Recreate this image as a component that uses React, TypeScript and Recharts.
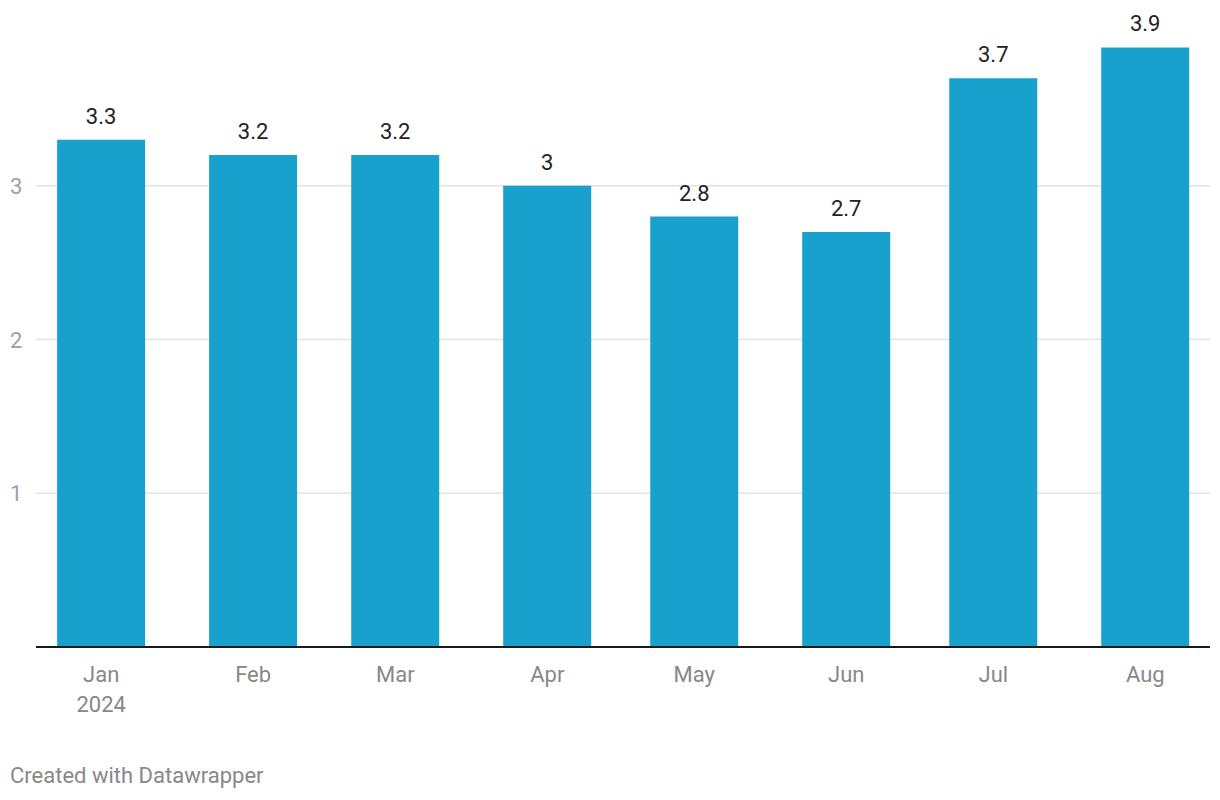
import { BarChart, Bar, XAxis, YAxis, CartesianGrid, LabelList } from "recharts";

// monthly values, 2024
const months = ["Jan", "Feb", "Mar", "Apr", "May", "Jun", "Jul", "Aug"];
const values = [3.3, 3.2, 3.2, 3, 2.8, 2.7, 3.7, 3.9];
// day of year for the first of each month (2024 is a leap year)
const dayOfYear = [0, 31, 60, 91, 121, 152, 182, 213];
const yTicks = [1, 2, 3];

const data = months.map((m, i) => ({ month: m, day: dayOfYear[i], value: values[i] }));

const FONT = "Roboto, 'Noto Sans', sans-serif";

const MonthTick = (props: any) => {
  const { x, y, payload } = props;
  const idx = dayOfYear.indexOf(payload.value);
  return (
    <g>
      <text x={x} y={y + 27} textAnchor="middle" fill="#888" fontSize={22} fontFamily={FONT}>
        {months[idx]}
      </text>
      {idx === 0 && (
        <text x={x} y={y + 57} textAnchor="middle" fill="#888" fontSize={22} fontFamily={FONT}>
          2024
        </text>
      )}
    </g>
  );
};

const ValueTick = (props: any) => {
  const { y, payload } = props;
  return (
    <text x={10} y={y + 8} textAnchor="start" fill="#a0a0a0" fontSize={22} fontFamily={FONT}>
      {payload.value}
    </text>
  );
};

export default function App() {
  return (
    <div style={{ position: "absolute", left: 0, top: 0, width: 1220, height: 800, background: "#fff" }}>
      <BarChart
        width={1220}
        height={800}
        data={data}
        margin={{ top: 32, right: 10, left: 0, bottom: 93 }}
      >
        <CartesianGrid
          vertical={false}
          horizontalValues={yTicks}
          stroke="#e2e2e2"
          strokeWidth={1.5}
        />
        <XAxis
          dataKey="day"
          type="number"
          domain={[-13.3, 226.2]}
          ticks={dayOfYear}
          tick={<MonthTick />}
          tickLine={false}
          axisLine={{ stroke: "#1a1a1a", strokeWidth: 2 }}
          height={60}
          allowDataOverflow
        />
        <YAxis
          domain={[0, 4]}
          ticks={yTicks}
          width={36}
          tick={<ValueTick />}
          axisLine={false}
          tickLine={false}
        />
        <Bar dataKey="value" fill="#18a1cd" barSize={88} isAnimationActive={false}>
          <LabelList
            dataKey="value"
            position="top"
            offset={16}
            fill="#222"
            fontSize={22}
            fontFamily={FONT}
          />
        </Bar>
      </BarChart>
      <div
        style={{
          position: "absolute",
          left: 10,
          top: 763,
          fontFamily: FONT,
          fontSize: 22,
          lineHeight: "26px",
          color: "#888",
        }}
      >
        Created with Datawrapper
      </div>
    </div>
  );
}
